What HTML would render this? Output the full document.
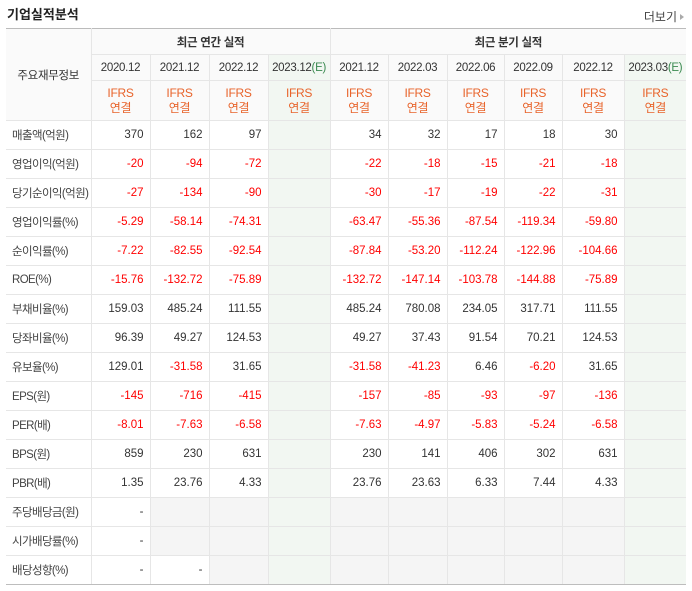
<!DOCTYPE html>
<html><head><meta charset="utf-8">
<style>
body{margin:0;width:692px;height:591px;background:#fff;font-family:"Liberation Sans","Noto Sans CJK KR",sans-serif;font-size:12px;color:#333;position:relative;overflow:hidden}
.title{position:absolute;left:7px;top:4px;font-size:13px;font-weight:bold;color:#222}
.more{position:absolute;right:8px;top:8px;font-size:12px;color:#444}
.more:after{content:"";display:inline-block;margin-left:3px;border-left:4px solid #aaa;border-top:3px solid transparent;border-bottom:3px solid transparent;vertical-align:1px}
table{position:absolute;left:6px;top:28px;border-collapse:collapse;table-layout:fixed;width:680px;font-size:11.5px}
td,th{border:1px solid #e6e6e6;padding:0;font-weight:normal;overflow:hidden;white-space:nowrap}
tr.top th{border-top:1px solid #bbb}
th{background:#fafafa;color:#333;text-align:center;letter-spacing:-0.3px}
td{text-align:right;padding-right:6px;height:28px}
td.lab{text-align:left;padding-left:6px;padding-right:0;color:#444;border-left:none;letter-spacing:-0.6px}
th.first{border-left:none}
td.last,th.last{border-right:none}
.sep{border-left:1px solid #bdbdbd !important}
.ifrs{color:#e8632a;line-height:15px;font-size:12px}
.e{background:#f2f7f2 !important}
.eg{color:#3a8a50}
.neg{color:#f00}
.g{background:#f5f5f5}
tr.gtop td{border-top:1px solid #bdbdbd}
tr.bot td{border-bottom:1px solid #bdbdbd}
</style></head><body>
<div class="title">기업실적분석</div>
<div class="more">더보기</div>
<table>
<colgroup><col style="width:85px"><col style="width:59px"><col style="width:59px"><col style="width:59px"><col style="width:62px"><col style="width:58px"><col style="width:59px"><col style="width:57px"><col style="width:58px"><col style="width:62px"><col style="width:62px"></colgroup>
<thead>
<tr class="top" style="height:26px"><th rowspan="3" class="first">주요재무정보</th><th colspan="4" class="sep" style="font-weight:bold">최근 연간 실적</th><th colspan="6" class="sep last" style="font-weight:bold">최근 분기 실적</th></tr>
<tr id="periods" style="height:26px"></tr>
<tr id="ifrs" style="height:40px"></tr>
</thead>
<tbody id="body"></tbody>
</table>
<script>
const periods=["2020.12","2021.12","2022.12","2023.12","2021.12","2022.03","2022.06","2022.09","2022.12","2023.03"];
const estimated=[false,false,false,true,false,false,false,false,false,true];
const labels=["매출액(억원)","영업이익(억원)","당기순이익(억원)","영업이익률(%)","순이익률(%)","ROE(%)","부채비율(%)","당좌비율(%)","유보율(%)","EPS(원)","PER(배)","BPS(원)","PBR(배)","주당배당금(원)","시가배당률(%)","배당성향(%)"];
const values=[
["370","162","97","","34","32","17","18","30",""],
["-20","-94","-72","","-22","-18","-15","-21","-18",""],
["-27","-134","-90","","-30","-17","-19","-22","-31",""],
["-5.29","-58.14","-74.31","","-63.47","-55.36","-87.54","-119.34","-59.80",""],
["-7.22","-82.55","-92.54","","-87.84","-53.20","-112.24","-122.96","-104.66",""],
["-15.76","-132.72","-75.89","","-132.72","-147.14","-103.78","-144.88","-75.89",""],
["159.03","485.24","111.55","","485.24","780.08","234.05","317.71","111.55",""],
["96.39","49.27","124.53","","49.27","37.43","91.54","70.21","124.53",""],
["129.01","-31.58","31.65","","-31.58","-41.23","6.46","-6.20","31.65",""],
["-145","-716","-415","","-157","-85","-93","-97","-136",""],
["-8.01","-7.63","-6.58","","-7.63","-4.97","-5.83","-5.24","-6.58",""],
["859","230","631","","230","141","406","302","631",""],
["1.35","23.76","4.33","","23.76","23.63","6.33","7.44","4.33",""],
["-",null,null,"",null,null,null,null,null,""],
["-",null,null,"",null,null,null,null,null,""],
["-","-",null,"",null,null,null,null,null,""]
];
const groupStarts=[3,6,9,13];
const pr=document.getElementById('periods'),ir=document.getElementById('ifrs');
periods.forEach((p,i)=>{
 const th=document.createElement('th');
 
 
 th.innerHTML=p+(estimated[i]?'<span class="eg">(E)</span>':'');
 if(i===0||i===4)th.classList.add('sep');
 if(estimated[i])th.classList.add('e');
 if(i===9)th.classList.add('last');
 pr.appendChild(th);
 const t2=document.createElement('th');
 
 
 t2.innerHTML='<div class="ifrs">IFRS<br>연결</div>';
 if(i===0||i===4)t2.classList.add('sep');
 if(estimated[i])t2.classList.add('e');
 if(i===9)t2.classList.add('last');
 ir.appendChild(t2);
});
const body=document.getElementById('body');
labels.forEach((l,r)=>{
 const tr=document.createElement('tr');
 
 
 if(groupStarts.includes(r))tr.classList.add('gtop');
 if(r===labels.length-1)tr.classList.add('bot');
 const td=document.createElement('td');
 td.className='lab';
 
 
 td.textContent=l;tr.appendChild(td);
 values[r].forEach((v,i)=>{
  const c=document.createElement('td');
  
  
  if(v===null)c.classList.add('g');else c.textContent=v;
  if(v&&v.length>1&&v[0]==='-')c.classList.add('neg');
  if(estimated[i])c.classList.add('e');
  if(i===0||i===4)c.classList.add('sep');
  if(i===9)c.classList.add('last');
  tr.appendChild(c);
 });
 body.appendChild(tr);
});
</script>
</body></html>
